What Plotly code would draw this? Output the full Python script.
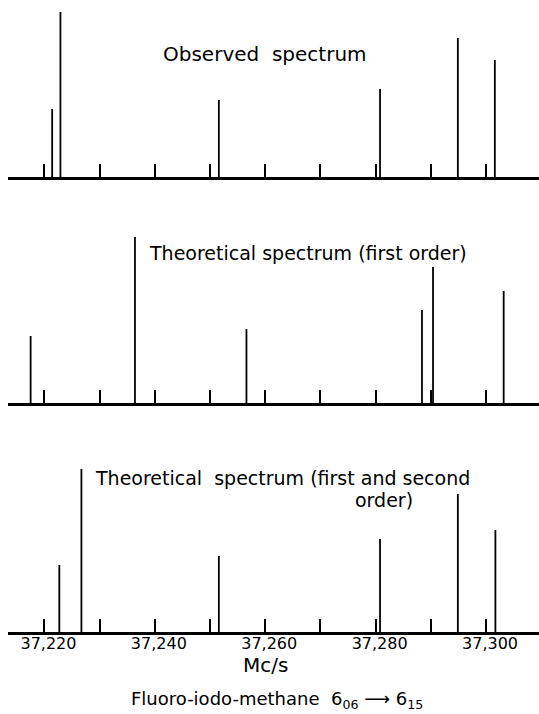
import plotly.graph_objects as go

# ---- data (frequencies in Mc/s, relative intensities) ----
obs_freq = [37221.4, 37222.9, 37251.6, 37280.8, 37294.9, 37301.6]
obs_int = [68, 165, 77, 88, 139, 117]

first_freq = [37217.5, 37236.4, 37256.6, 37288.4, 37290.4, 37303.2]
first_int = [67, 166, 74, 93, 136, 112]

second_freq = [37222.7, 37226.7, 37251.6, 37280.8, 37294.9, 37301.7]
second_int = [67, 163, 76, 93, 138, 102]

tick_vals = [37220, 37240, 37260, 37280, 37300]
tick_text = ["37,220", "37,240", "37,260", "37,280", "37,300"]
minor_vals = [37230, 37250, 37270, 37290]

W, H = 539, 714
FONT = "DejaVu Sans"


def sticks(freqs, ints):
    xs, ys = [], []
    for f, v in zip(freqs, ints):
        xs += [f, f, None]
        ys += [0, v, None]
    return xs, ys


def dom(base_px, top_px):
    return [1 - base_px / H, 1 - top_px / H]


fig = go.Figure()
panels = [(obs_freq, obs_int, "x", "y"),
          (first_freq, first_int, "x2", "y2"),
          (second_freq, second_int, "x3", "y3")]
for fr, it, xa, ya in panels:
    xs, ys = sticks(fr, it)
    fig.add_trace(go.Scatter(x=xs, y=ys, mode="lines", xaxis=xa, yaxis=ya,
                             line=dict(color="black", width=1.8),
                             hoverinfo="skip", showlegend=False))

xrange_ = [37213.4, 37309.6]
xcommon = dict(range=xrange_, showgrid=False, zeroline=False, showline=True,
               linecolor="black", linewidth=2.5, ticks="inside", ticklen=13,
               tickwidth=1.5, tickcolor="black", tickvals=tick_vals,
               ticktext=tick_text, ticklabelstandoff=-5, ticklabelshift=4,
               tickfont=dict(family=FONT, size=16, color="black"),
               minor=dict(tickvals=minor_vals, ticks="inside", ticklen=13,
                          tickwidth=1.5, tickcolor="black", showgrid=False))
ycommon = dict(range=[0, 172], visible=False, showgrid=False, zeroline=False)

fig.update_layout(
    width=W, height=H,
    margin=dict(l=8, r=0, t=0, b=0),
    paper_bgcolor="white", plot_bgcolor="white",
    xaxis=dict(**xcommon, anchor="y", showticklabels=False),
    xaxis2=dict(**xcommon, anchor="y2", showticklabels=False),
    xaxis3=dict(**xcommon, anchor="y3", showticklabels=True),
    yaxis=dict(**ycommon, domain=dom(177, 5)),
    yaxis2=dict(**ycommon, domain=dom(403, 231)),
    yaxis3=dict(**ycommon, domain=dom(632, 460)),
    font=dict(family=FONT, color="black"),
)

ann = [
    dict(text="Observed  spectrum", x=37260.0, y=123, xref="x", yref="y",
         xanchor="center", yanchor="middle", size=20),
    dict(text="Theoretical spectrum (first order)", x=37238.6, y=150, xref="x2", yref="y2",
         xanchor="left", yanchor="middle", size=19),
    dict(text="Theoretical  spectrum (first and second", x=37228.8, y=154, xref="x3", yref="y3",
         xanchor="left", yanchor="middle", size=19),
    dict(text="order)", x=37275.9, y=132, xref="x3", yref="y3",
         xanchor="left", yanchor="middle", size=19),
    dict(text="Mc/s", x=(265 - 8) / 531, y=1 - 665 / H, xref="paper", yref="paper",
         xanchor="center", yanchor="middle", size=20),
    dict(text="Fluoro-iodo-methane  6<sub>06</sub> ⟶ 6<sub>15</sub>", x=(277 - 8) / 531,
         y=1 - 700 / H, xref="paper", yref="paper", xanchor="center", yanchor="middle", size=18),
]
for a in ann:
    fig.add_annotation(text=a["text"], x=a["x"], y=a["y"], xref=a["xref"], yref=a["yref"],
                       xanchor=a["xanchor"], yanchor=a["yanchor"], showarrow=False,
                       font=dict(family=FONT, size=a["size"], color="black"))

fig.write_html("out.html", config={"displayModeBar": False},
               post_script="document.body.style.margin='0';document.body.style.overflow='hidden';")
